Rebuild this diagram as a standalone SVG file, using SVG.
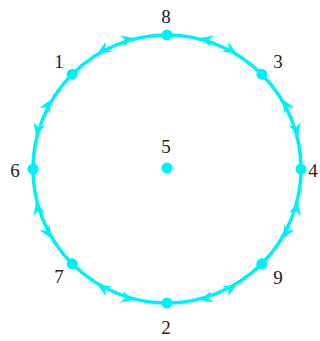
<svg xmlns="http://www.w3.org/2000/svg" width="320" height="341" viewBox="0 0 320 341">
<style>
.t{font-family:"Liberation Serif","Times New Roman",serif;font-size:19px;fill:#222;text-anchor:middle}
.n{fill:#00f0f8}
.a{fill:#00f0f8}
</style>
<defs>
<path id="cw" d="M168,34 L155,28 L159,34 L155,40 Z"/>
<path id="ccw" d="M166,34 L179,28 L175,34 L179,40 Z"/>
</defs>
<g id="connectors">
<circle cx="167" cy="169" r="134" fill="none" stroke="#00f0f8" stroke-width="3.5"/>
<g class="a">
<use href="#cw" transform="rotate(30.5 167 169)"/><use href="#ccw" transform="rotate(14.5 167 169)"/>
<use href="#cw" transform="rotate(75.5 167 169)"/><use href="#ccw" transform="rotate(59.5 167 169)"/>
<use href="#cw" transform="rotate(120.5 167 169)"/><use href="#ccw" transform="rotate(104.5 167 169)"/>
<use href="#cw" transform="rotate(165.5 167 169)"/><use href="#ccw" transform="rotate(149.5 167 169)"/>
<use href="#cw" transform="rotate(210.5 167 169)"/><use href="#ccw" transform="rotate(194.5 167 169)"/>
<use href="#cw" transform="rotate(255.5 167 169)"/><use href="#ccw" transform="rotate(239.5 167 169)"/>
<use href="#cw" transform="rotate(300.5 167 169)"/><use href="#ccw" transform="rotate(284.5 167 169)"/>
<use href="#cw" transform="rotate(345.5 167 169)"/><use href="#ccw" transform="rotate(329.5 167 169)"/>
</g>
</g>
<g id="node8"><circle class="n" cx="167" cy="35" r="5.5"/><text class="t" x="166" y="23">8</text></g>
<g id="node3"><circle class="n" cx="261.8" cy="74.2" r="5.5"/><text class="t" x="278" y="68">3</text></g>
<g id="node4"><circle class="n" cx="301" cy="169" r="5.5"/><text class="t" x="313" y="177">4</text></g>
<g id="node9"><circle class="n" cx="261.8" cy="263.8" r="5.5"/><text class="t" x="278" y="284">9</text></g>
<g id="node2"><circle class="n" cx="167" cy="303" r="5.5"/><text class="t" x="166" y="334">2</text></g>
<g id="node7"><circle class="n" cx="72.2" cy="263.8" r="5.5"/><text class="t" x="59" y="283">7</text></g>
<g id="node6"><circle class="n" cx="33" cy="169" r="5.5"/><text class="t" x="15" y="177">6</text></g>
<g id="node1"><circle class="n" cx="72.2" cy="74.2" r="5.5"/><text class="t" x="59" y="68">1</text></g>
<g id="node5"><circle class="n" cx="167" cy="168" r="5.5"/><text class="t" x="166" y="153">5</text></g>
</svg>
